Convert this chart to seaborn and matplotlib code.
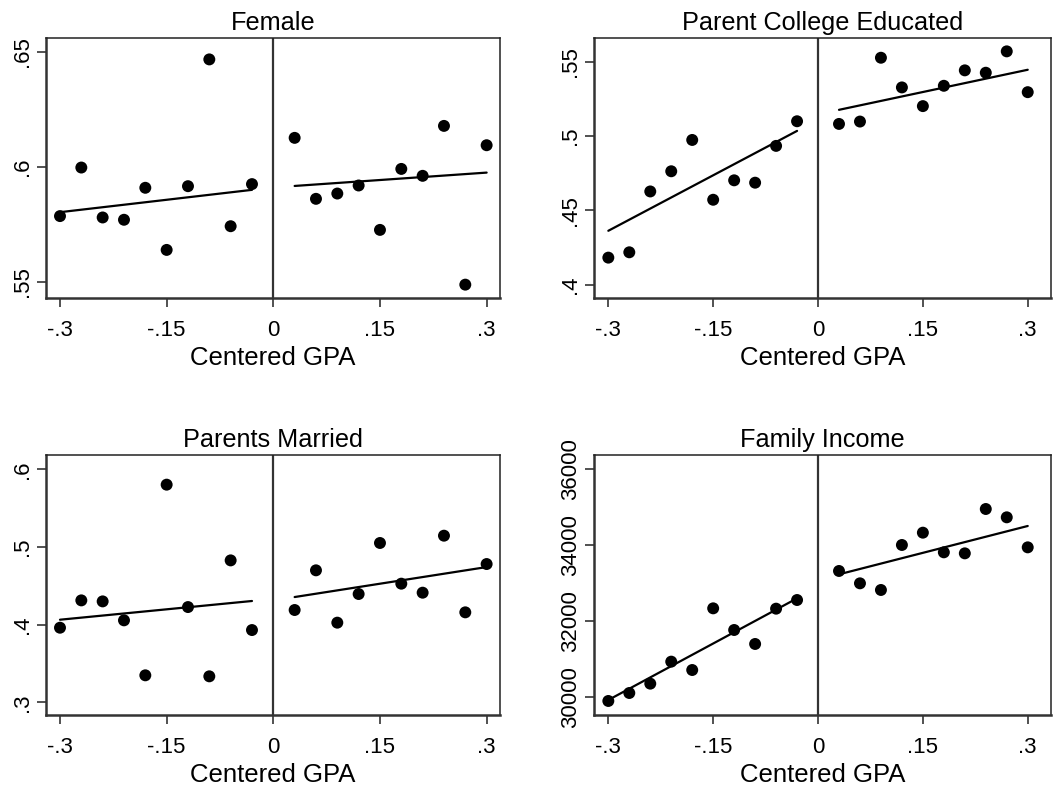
import numpy as np
import pandas as pd
import matplotlib
matplotlib.use("Agg")
import matplotlib.pyplot as plt
import seaborn as sns

# Bin midpoints of centered GPA on each side of the cutoff
x_left = [-0.30, -0.27, -0.24, -0.21, -0.18, -0.15, -0.12, -0.09, -0.06, -0.03]
x_right = [0.03, 0.06, 0.09, 0.12, 0.15, 0.18, 0.21, 0.24, 0.27, 0.30]

# Binned means
female_left = [0.5786, 0.5997, 0.5780, 0.5770, 0.5909, 0.5639, 0.5916, 0.6467, 0.5742, 0.5925]
female_right = [0.6126, 0.5861, 0.5884, 0.5919, 0.5726, 0.5991, 0.5961, 0.6178, 0.5488, 0.6094]

college_left = [0.4182, 0.4218, 0.4628, 0.4764, 0.4975, 0.4572, 0.4703, 0.4687, 0.4935, 0.5101]
college_right = [0.5083, 0.5099, 0.5529, 0.5329, 0.5203, 0.5340, 0.5444, 0.5428, 0.5572, 0.5297]

married_left = [0.3961, 0.4313, 0.4300, 0.4056, 0.3348, 0.5803, 0.4227, 0.3335, 0.4828, 0.3931]
married_right = [0.4189, 0.4700, 0.4026, 0.4395, 0.5052, 0.4528, 0.4412, 0.5146, 0.4159, 0.4781]

income_left = [29904, 30114, 30360, 30939, 30719, 32342, 31772, 31404, 32333, 32561]
income_right = [33325, 33000, 32825, 34009, 34333, 33816, 33789, 34956, 34737, 33947]

# Linear fits (value at first and last bin on each side)
fit_x_left = [-0.30, -0.03]
fit_x_right = [0.03, 0.30]
female_fit = ([0.5803, 0.5900], [0.5917, 0.5975])
college_fit = ([0.4363, 0.5036], [0.5178, 0.5448])
married_fit = ([0.4064, 0.4305], [0.4356, 0.4742])
income_fit = ([29930, 32605], [33237, 34509])

titles = ["Female", "Parent College Educated", "Parents Married", "Family Income"]
xticks = [-0.3, -0.15, 0, 0.15, 0.3]
xticklabels = ["-.3", "-.15", "0", ".15", ".3"]

female_ticks = ([0.55, 0.60, 0.65], [".55", ".6", ".65"])
college_ticks = ([0.40, 0.45, 0.50, 0.55], [".4", ".45", ".5", ".55"])
married_ticks = ([0.3, 0.4, 0.5, 0.6], [".3", ".4", ".5", ".6"])
income_ticks = ([30000, 32000, 34000, 36000], ["30000", "32000", "34000", "36000"])

panels = [
    (female_left, female_right, female_fit, female_ticks, (0.543, 0.656), (-0.3201, 0.3188)),
    (college_left, college_right, college_fit, college_ticks, (0.391, 0.5662), (-0.3205, 0.3333)),
    (married_left, married_right, married_fit, married_ticks, (0.2837, 0.6185), (-0.3201, 0.3188)),
    (income_left, income_right, income_fit, income_ticks, (29535, 36377), (-0.3205, 0.3333)),
]

sns.set_theme(style="white")
plt.rcParams["font.family"] = ["Liberation Sans", "DejaVu Sans"]

W, H = 1053, 793
fig = plt.figure(figsize=(W / 100, H / 100), dpi=100)
fig.patch.set_facecolor("white")

boxes = [
    (45.7, 38, 500, 298),
    (594, 38, 1051, 298),
    (45.7, 455, 500, 715),
    (594, 455, 1051, 715),
]

for (l, t, r, b), title, (yl, yr, fit, (yt, ytl), ylim, xlim) in zip(boxes, titles, panels):
    ax = fig.add_axes([l / W, 1 - b / H, (r - l) / W, (b - t) / H])
    ax.set_facecolor("white")

    ax.axvline(0, color="#333333", lw=1.6, zorder=1)

    pts = pd.DataFrame({"x": x_left + x_right, "y": list(yl) + list(yr)})
    sns.scatterplot(data=pts, x="x", y="y", ax=ax, color="black", s=74,
                    edgecolor="none", zorder=3)

    for fx, fy in ((fit_x_left, fit[0]), (fit_x_right, fit[1])):
        sns.lineplot(x=fx, y=fy, ax=ax, color="black", lw=1.6, zorder=2)

    ax.set_xlim(*xlim)
    ax.set_ylim(*ylim)
    ax.set_xticks(xticks)
    ax.set_xticklabels(xticklabels)
    ax.set_yticks(yt)
    ax.set_yticklabels(ytl, rotation=90, va="center")

    ax.tick_params(axis="both", which="major", direction="out", length=6.5,
                   width=1.2, color="#333333", labelsize=16, labelcolor="black",
                   left=True, bottom=True)
    ax.tick_params(axis="x", pad=9)
    ax.tick_params(axis="y", pad=3)

    for side in ("left", "bottom"):
        ax.spines[side].set_linewidth(1.8)
        ax.spines[side].set_color("#333333")
    for side in ("top", "right"):
        ax.spines[side].set_linewidth(1.1)
        ax.spines[side].set_color("#222222")

    ax.set_title(title, fontsize=18.2, pad=6, color="black")
    ax.set_xlabel("Centered GPA", fontsize=18.5, labelpad=4, color="black")
    ax.set_ylabel("")
    ax.grid(False)

fig.savefig("out.png", dpi=100, facecolor="white")
